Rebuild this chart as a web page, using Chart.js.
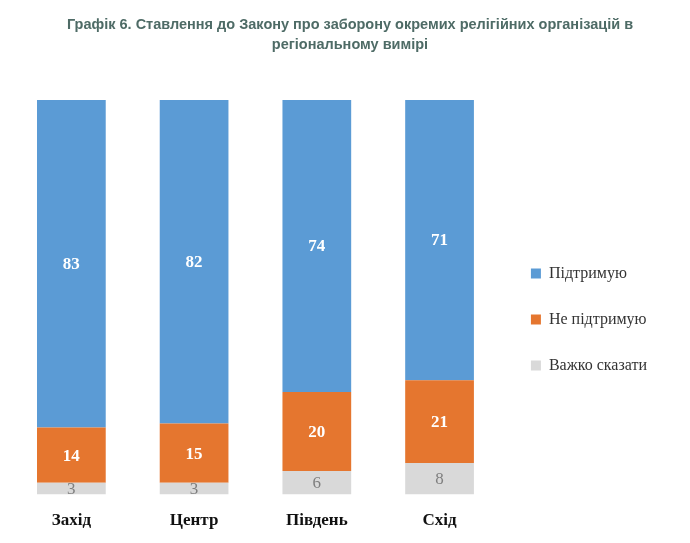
<!DOCTYPE html>
<html><head><meta charset="utf-8">
<script src="https://cdn.jsdelivr.net/npm/chart.js@4"></script>
<style>
body{margin:0;background:#fff;width:690px;height:543px;overflow:hidden;position:relative}
#title{position:absolute;top:14px;left:40px;width:620px;text-align:center;font:bold 14.5px Arial,"Liberation Sans",sans-serif;color:#4e6b66;line-height:20px}
#wrap{position:absolute;left:0;top:0;width:690px;height:543px}
</style></head><body>
<div id="wrap"><canvas id="c"></canvas></div>
<div id="title">Графік 6. Ставлення до Закону про заборону окремих релігійних організацій в регіональному вимірі</div>
<script>
const regions = ["Захід", "Центр", "Південь", "Схід"];
const support = [83, 82, 74, 71];
const notSupport = [14, 15, 20, 21];
const hardToSay = [3, 3, 6, 8];

// numbers inside the segments
const segLabels = {
  id: "segLabels",
  afterDatasetsDraw(chart) {
    const ctx = chart.ctx;
    chart.data.datasets.forEach((ds, i) => {
      chart.getDatasetMeta(i).data.forEach((bar, j) => {
        const gray = i === 0;
        ctx.save();
        ctx.font = (gray ? "" : "bold ") + "17px 'Liberation Serif', serif";
        ctx.fillStyle = gray ? "#7f7f7f" : "#fff";
        ctx.textAlign = "center";
        ctx.textBaseline = "middle";
        ctx.fillText(ds.data[j], bar.x, (bar.y + bar.base) / 2 + 1);
        ctx.restore();
      });
    });
  }
};

new Chart(document.getElementById("c"), {
  type: "bar",
  data: {
    labels: regions,
    datasets: [
      { label: "Важко сказати", data: hardToSay, backgroundColor: "#d9d9d9" },
      { label: "Не підтримую", data: notSupport, backgroundColor: "#e5762f" },
      { label: "Підтримую", data: support, backgroundColor: "#5b9bd5" }
    ]
  },
  options: {
    responsive: true, maintainAspectRatio: false, animation: false,
    datasets: { bar: { barPercentage: 0.56, categoryPercentage: 1, borderWidth: 0 } },
    layout: { padding: { top: 100, left: 10, right: 33, bottom: 4 } },
    plugins: {
      tooltip: { enabled: false },
      legend: {
        position: "right", reverse: true, align: "center",
        labels: { boxWidth: 10, boxHeight: 10, padding: 30, color: "#333",
          font: { size: 16, family: "'Liberation Serif', serif" } }
      }
    },
    scales: {
      x: { stacked: true, grid: { display: false }, border: { display: false },
        afterSetDimensions(s) { s.right -= 24; s.width -= 24; },
        ticks: { color: "#111", padding: 8, font: { size: 17, weight: "bold", family: "'Liberation Serif', serif" } } },
      y: { stacked: true, display: false, min: 0, max: 100 }
    }
  },
  plugins: [segLabels]
});
</script>
</body></html>
